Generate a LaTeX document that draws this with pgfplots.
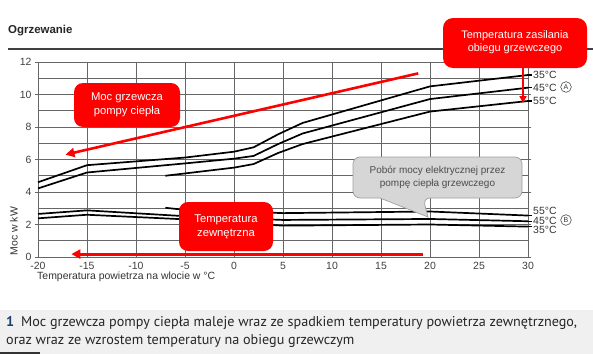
\documentclass[border=0pt]{standalone}
\usepackage{pgfplots}
\pgfplotsset{compat=1.18}
\usepackage{fontspec}
\setmainfont{Liberation Sans}
\newfontfamily\capfont{PT Sans}
\usetikzlibrary{arrows.meta}
\definecolor{gridc}{HTML}{666666}
\definecolor{boxred}{HTML}{FF0000}
\definecolor{capbg}{HTML}{F0F0F0}
\definecolor{capblue}{HTML}{1F3F6E}
\definecolor{callgray}{HTML}{D6D6D6}
\begin{document}
\begin{tikzpicture}[font=\fontsize{10.5}{12}\selectfont]
\path[use as bounding box, fill=white] (0,0) rectangle (593bp,-354bp);
% caption background
\fill[capbg] (0,-310bp) rectangle (593bp,-354bp);
\fill[black!80] (0,-352bp) rectangle (40bp,-354bp);
% title
\node[anchor=west, font=\fontsize{11.5}{13}\selectfont\bfseries, text=black!85, inner sep=0pt] at (8bp,-31bp) {Ogrzewanie};
\draw[black!75, line width=1.3bp] (8bp,-49bp) -- (593bp,-49bp);
\begin{axis}[
  at={(38bp,-257bp)}, anchor=south west,
  scale only axis, width=490bp, height=195bp,
  xmin=-20, xmax=30, ymin=0, ymax=12,
  xtick={-20,-15,...,30}, ytick={0,2,...,12},
  minor ytick={1,3,...,11},
  grid=both,
  major grid style={gridc, line width=0.9bp},
  minor grid style={gridc, line width=0.9bp},
  axis line style={gridc, line width=0.9bp},
  tick align=outside, major tick length=3bp,
  xtick style={draw=none}, ytick style={gridc, line width=0.9bp},
  minor tick length=0pt,
  tick label style={font=\fontsize{10.5}{12}\selectfont, text=black!75},
  /pgf/number format/assume math mode=true,
  xticklabel style={yshift=1bp},
  clip=false,
]
% Heating power (A)
\addplot[black, line width=1.7bp] coordinates {(-20,4.6) (-15,5.65) (-5,6.12) (0,6.48) (2,6.75) (4.5,7.55) (7,8.25) (20,10.5) (30,11.2)};
\addplot[black, line width=1.7bp] coordinates {(-20,4.22) (-15,5.2) (-5,5.76) (0,6.05) (2,6.22) (4.5,6.95) (7,7.6) (20,9.72) (30,10.42)};
\addplot[black, line width=1.7bp] coordinates {(-7,5.0) (0,5.5) (2,5.72) (4.5,6.4) (7,6.95) (20,8.95) (30,9.6)};
% Electrical power (B)
\addplot[black, line width=1.7bp] coordinates {(-7,3.03) (-5.8,2.95) (5,2.7) (20,2.8) (30,2.55)};
\addplot[black, line width=1.7bp] coordinates {(-20,2.65) (-15,2.87) (-5.8,2.54) (5,2.28) (20,2.34) (30,2.2)};
\addplot[black, line width=1.7bp] coordinates {(-20,2.38) (-15,2.6) (-5.8,2.34) (5,1.93) (20,2.0) (30,1.87)};
% short tick extensions at right
\draw[black, line width=1.2bp] (axis cs:30,11.2) -- (axis cs:30.45,11.2);
\draw[black, line width=1.2bp] (axis cs:30,10.42) -- (axis cs:30.45,10.42);
\draw[black, line width=1.2bp] (axis cs:30,9.6) -- (axis cs:30.45,9.6);
\draw[black, line width=1.2bp] (axis cs:30,2.55) -- (axis cs:30.45,2.55);
\draw[black, line width=1.2bp] (axis cs:30,2.2) -- (axis cs:30.45,2.2);
\draw[black, line width=1.2bp] (axis cs:30,1.87) -- (axis cs:30.45,1.87);
% red arrows
\draw[boxred, line width=2.6bp, -{Triangle[length=9bp,width=9bp]}] (axis cs:18.8,11.3) -- (axis cs:-17.2,6.3);
\draw[boxred, line width=3bp, -{Triangle[length=9bp,width=9bp]}] (axis cs:19.3,0.18) -- (axis cs:-16.6,0.18);
\end{axis}
% axis labels
\node[rotate=90, font=\fontsize{10.5}{12}\selectfont, text=black!80] at (14bp,-231bp) {Moc w kW};
\node[anchor=west, inner sep=0pt, font=\fontsize{10.5}{12}\selectfont, text=black!80] at (37bp,-277bp) {Temperatura powietrza na wlocie w °C};
% right labels
\begin{scope}[every node/.style={anchor=west, inner sep=0pt, font=\fontsize{10.5}{11}\selectfont, text=black!80}]
\node at (533bp,-75bp) {35°C};
\node at (533bp,-88bp) {45°C};
\node at (533bp,-101bp) {55°C};
\node at (533bp,-211bp) {55°C};
\node at (533bp,-221bp) {45°C};
\node at (533bp,-230bp) {35°C};
\end{scope}
\draw[black!70, line width=0.6bp] (566bp,-87bp) circle (5.3bp);
\node[font=\fontsize{7}{8}\selectfont, text=black!80, inner sep=0pt] at (566bp,-87bp) {A};
\draw[black!70, line width=0.6bp] (566bp,-220bp) circle (5.3bp);
\node[font=\fontsize{7}{8}\selectfont, text=black!80, inner sep=0pt] at (566bp,-220bp) {B};
% red callout boxes
\fill[boxred, rounded corners=9bp] (74bp,-83bp) rectangle (180bp,-127bp);
\node[text=white, align=center, font=\fontsize{11.3}{14}\selectfont] at (127bp,-105bp) {Moc grzewcza\\pompy ciepła};
\fill[boxred, rounded corners=9bp] (179bp,-202bp) rectangle (273bp,-251bp);
\node[text=white, align=center, font=\fontsize{11.3}{14}\selectfont] at (226bp,-226.5bp) {Temperatura\\zewnętrzna};
\fill[boxred, rounded corners=10bp] (443bp,-18bp) rectangle (587bp,-68bp);
\node[text=white, align=center, font=\fontsize{11}{13.5}\selectfont] at (515bp,-42bp) {Temperatura zasilania\\obiegu grzewczego};
\draw[boxred, line width=2.4bp, -{Triangle[length=7bp,width=7bp]}] (523bp,-66bp) -- (523bp,-103bp);
% grey callout
\draw[callgray!75!black, fill=callgray, line width=0.7bp, rounded corners=7bp]
  (353bp,-157bp) -- (522bp,-157bp) -- (522bp,-198bp) -- (423bp,-198bp) [sharp corners] -- (428bp,-217bp) -- (380bp,-198bp) [rounded corners=7bp] -- (353bp,-198bp) -- cycle;
\node[text=black!70, align=center, font=\fontsize{10}{12.5}\selectfont] at (437.5bp,-177.5bp) {Pobór mocy elektrycznej przez\\pompę ciepła grzewczego};
% caption
\node[anchor=west, inner sep=0pt, font=\capfont\fontsize{14.2}{16}\selectfont, text=black!85] at (6bp,-323bp) {\textcolor{capblue}{\bfseries 1}\hspace{7bp}Moc grzewcza pompy ciepła maleje wraz ze spadkiem temperatury powietrza zewnętrznego,};
\node[anchor=west, inner sep=0pt, font=\capfont\fontsize{14.2}{16}\selectfont, text=black!85] at (6bp,-341bp) {oraz wraz ze wzrostem temperatury na obiegu grzewczym};
\end{tikzpicture}
\end{document}
